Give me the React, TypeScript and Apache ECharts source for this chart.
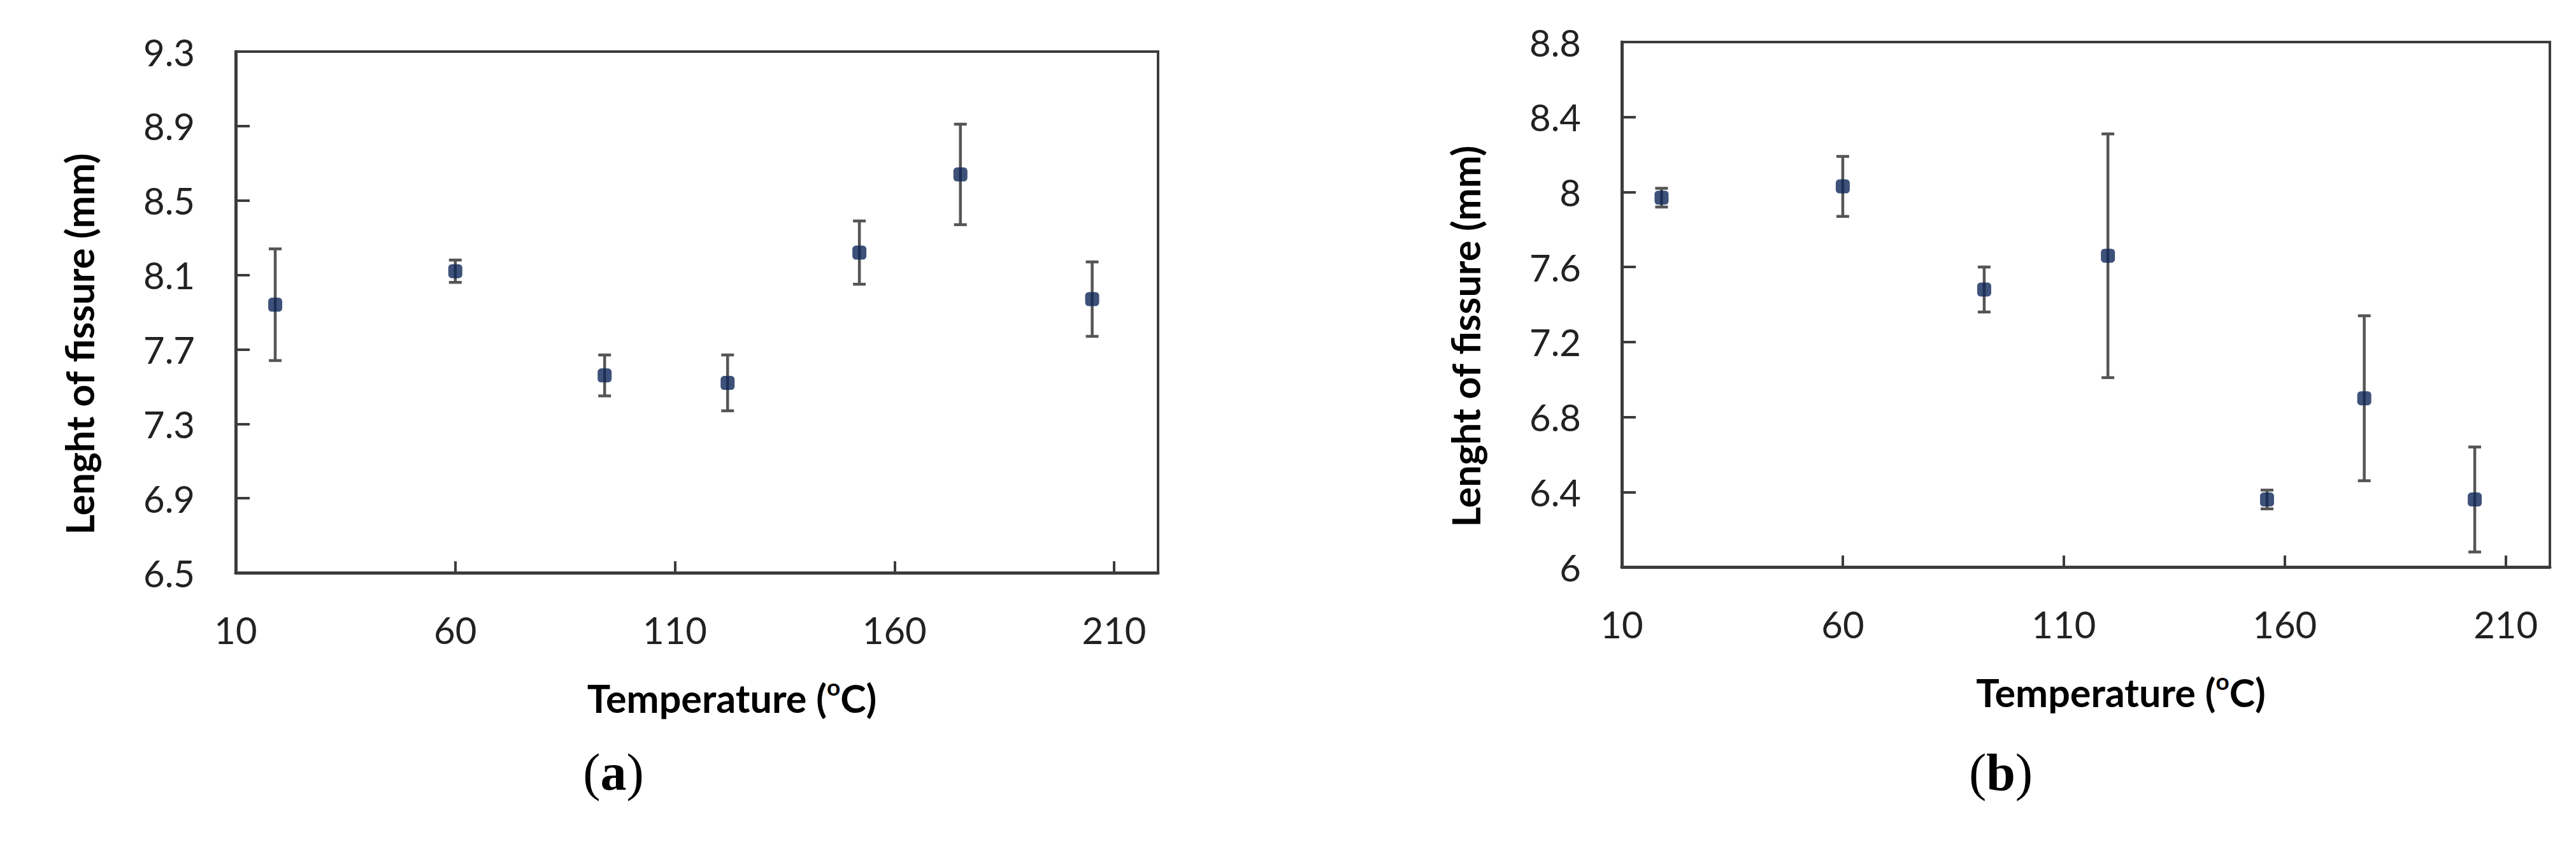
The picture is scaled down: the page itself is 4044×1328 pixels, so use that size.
import React, { useEffect, useRef } from "react";
import * as echarts from "echarts";

// ---- data ----
const tempA = [19, 60, 94, 122, 152, 175, 205];
const lenA = [7.94, 8.12, 7.56, 7.52, 8.22, 8.64, 7.97];
const errA = [0.3, 0.06, 0.11, 0.15, 0.17, 0.27, 0.2];

const tempB = [19, 60, 92, 120, 156, 178, 203];
const lenB = [7.97, 8.03, 7.48, 7.66, 6.36, 6.9, 6.36];
const errB = [0.05, 0.16, 0.12, 0.65, 0.05, 0.44, 0.28];

const xRange = [10, 220];
const xStep = 50;
const yRangeA = [6.5, 9.3];
const yRangeB = [6, 8.8];
const yStep = 0.4;

const xTitleParts = ["Temperature (", "o", "C)"];
const yTitle = "Lenght of fissure (mm)";
const captions = ["a", "b"];

const AXIS = "#3c3c3c";
const TXT = "#222222";
const MARK = "#0c2658";
const BAR = "#555555";
const FONT = "Lato, 'Open Sans', sans-serif";

function errorItem(params: any, api: any) {
  const x = api.value(0);
  const lo = api.value(1);
  const hi = api.value(2);
  const top = api.coord([x, hi]);
  const bot = api.coord([x, lo]);
  const half = 10;
  const style = { stroke: BAR, lineWidth: 4.5 };
  return {
    type: "group",
    children: [
      { type: "line", shape: { x1: top[0], y1: top[1], x2: bot[0], y2: bot[1] }, style },
      { type: "line", shape: { x1: top[0] - half, y1: top[1], x2: top[0] + half, y2: top[1] }, style },
      { type: "line", shape: { x1: bot[0] - half, y1: bot[1], x2: bot[0] + half, y2: bot[1] }, style },
    ],
  };
}

function xAxisFor(gridIndex: number) {
  return {
    type: "value",
    gridIndex,
    min: xRange[0],
    max: xRange[1],
    interval: xStep,
    axisLine: { show: true, onZero: false, lineStyle: { color: AXIS, width: 5 } },
    axisTick: { show: true, inside: true, length: 18, lineStyle: { color: AXIS, width: 4 } },
    axisLabel: {
      showMaxLabel: false,
      margin: 60,
      fontSize: 58,
      fontFamily: FONT,
      color: TXT,
    },
    splitLine: { show: false },
    name: `{t|${xTitleParts[0]}}{s|${xTitleParts[1]}}{t|${xTitleParts[2]}}`,
    nameLocation: "middle",
    nameGap: 160,
    nameTextStyle: {
      padding: [0, 0, 0, 110],
      rich: {
        t: { fontSize: 61, fontWeight: "bold", fontFamily: FONT, color: "#000", lineHeight: 72 },
        s: { fontSize: 37, fontWeight: "bold", fontFamily: FONT, color: "#000", lineHeight: 40, verticalAlign: "top" },
      },
    },
  };
}

function yAxisFor(gridIndex: number, range: number[], fixed: boolean) {
  return {
    type: "value",
    gridIndex,
    min: range[0],
    max: range[1],
    interval: yStep,
    axisLine: { show: true, onZero: false, lineStyle: { color: AXIS, width: 5 } },
    axisTick: { show: true, inside: true, length: 22, lineStyle: { color: AXIS, width: 4 } },
    axisLabel: {
      margin: 64,
      fontSize: 58,
      fontFamily: FONT,
      color: TXT,
      formatter: (v: number) => (fixed ? v.toFixed(1) : String(Math.round(v * 10) / 10)),
    },
    splitLine: { show: false },
    name: yTitle,
    nameLocation: "middle",
    nameGap: 215,
    nameTextStyle: {
      fontSize: 61,
      fontWeight: "bold",
      fontFamily: FONT,
      color: "#000",
      padding: [0, 100, 0, 0],
    },
  };
}

export default function App() {
  const ref = useRef<HTMLDivElement>(null);
  useEffect(() => {
    if (!ref.current) return;
    const chart = echarts.init(ref.current, null, { renderer: "svg" });
    const dataA = tempA.map((t, i) => [t, lenA[i]]);
    const dataB = tempB.map((t, i) => [t, lenB[i]]);
    const barsA = tempA.map((t, i) => [t, lenA[i] - errA[i], lenA[i] + errA[i]]);
    const barsB = tempB.map((t, i) => [t, lenB[i] - errB[i], lenB[i] + errB[i]]);
    const serif = "'Liberation Serif', 'Times New Roman', serif";
    chart.setOption({
      animation: false,
      backgroundColor: "#ffffff",
      grid: [
        { left: 370, top: 81, width: 1448, height: 818, show: true, borderColor: AXIS, borderWidth: 4 },
        { left: 2546, top: 66, width: 1457, height: 824, show: true, borderColor: AXIS, borderWidth: 4 },
      ],
      xAxis: [xAxisFor(0), xAxisFor(1)],
      yAxis: [yAxisFor(0, yRangeA, true), yAxisFor(1, yRangeB, false)],
      series: [
        { type: "custom", xAxisIndex: 0, yAxisIndex: 0, renderItem: errorItem, data: barsA, z: 2 },
        { type: "custom", xAxisIndex: 1, yAxisIndex: 1, renderItem: errorItem, data: barsB, z: 2 },
        { type: "scatter", xAxisIndex: 0, yAxisIndex: 0, data: dataA, symbol: "roundRect", symbolSize: 22, itemStyle: { color: MARK }, z: 3 },
        { type: "scatter", xAxisIndex: 1, yAxisIndex: 1, data: dataB, symbol: "roundRect", symbolSize: 22, itemStyle: { color: MARK }, z: 3 },
      ],
      graphic: captions.map((c, i) => ({
        type: "text",
        x: i === 0 ? 963 : 3141,
        y: 1212,
        style: {
          text: `{p|(}{b|${c}}{p|)}`,
          align: "center",
          verticalAlign: "middle",
          rich: {
            p: { fontSize: 82, fontFamily: serif, fill: "#000" },
            b: { fontSize: 82, fontWeight: "bold", fontFamily: serif, fill: "#000" },
          },
        },
      })),
    });
    return () => chart.dispose();
  }, []);
  return (
    <div
      ref={ref}
      style={{ position: "absolute", left: 0, top: 0, width: 4044, height: 1328, background: "#fff" }}
    />
  );
}
